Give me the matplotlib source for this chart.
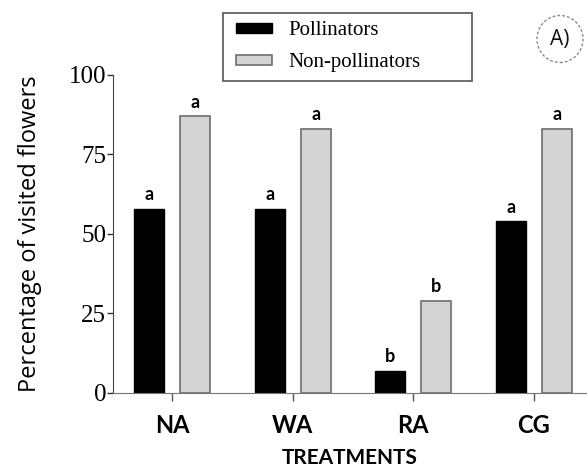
import numpy as np
import matplotlib.pyplot as plt
from matplotlib.patches import Ellipse, Rectangle

# dati
trattamenti = ['NA', 'WA', 'RA', 'CG']
impollinatori = [58, 58, 7, 54]
non_impollinatori = [87, 83, 29, 83]
lettere_imp = ['a', 'a', 'b', 'a']
lettere_non = ['a', 'a', 'b', 'a']

fig = plt.figure(figsize=(5.87, 4.68), dpi=100)
ax = fig.add_axes([0.1925, 0.1603, 0.8075, 0.6795])

x = np.arange(len(trattamenti))
w = 0.25
off = 0.19
b1 = ax.bar(x - off, impollinatori, w, color='black', edgecolor='black', linewidth=1,
            label='Pollinators')
b2 = ax.bar(x + off, non_impollinatori, w, color='#d4d4d4', edgecolor='#6e6e6e', linewidth=1.2,
            label='Non-pollinators')

# lettere sopra le barre
for i in range(len(trattamenti)):
    ax.annotate(lettere_imp[i], (x[i] - off, impollinatori[i]), xytext=(0, 4),
                textcoords='offset points', ha='center', va='bottom',
                fontsize=13, fontweight='bold', family='Lato')
    ax.annotate(lettere_non[i], (x[i] + off, non_impollinatori[i]), xytext=(0, 4),
                textcoords='offset points', ha='center', va='bottom',
                fontsize=13, fontweight='bold', family='Lato')

ax.set_ylim(0, 100)
ax.set_xlim(-0.49, 3.44)
ax.set_yticks([0, 25, 50, 75, 100])
ax.set_yticklabels(['0', '25', '50', '75', '100'], family='Liberation Serif', fontsize=18)
ax.set_xticks(x)
ax.set_xticklabels(trattamenti, family='Lato', fontweight='bold', fontsize=17)
ax.tick_params(axis='y', length=4, width=1, pad=1, color='#333333')
ax.tick_params(axis='x', length=6, width=1, pad=9, color='#555555')

ax.spines['top'].set_visible(False)
ax.spines['right'].set_visible(False)
ax.spines['left'].set_color('#444444')
ax.spines['bottom'].set_color('#777777')

ax.set_ylabel('Percentage of visited flowers', family='Open Sans', fontsize=17, labelpad=19)
ax.set_xlabel('TREATMENTS', family='Lato', fontweight='bold', fontsize=15, labelpad=8)

# legenda senza cornice + rettangolo disegnato a mano
leg = fig.legend(handles=[b1, b2], loc='upper left', bbox_to_anchor=(0.3745, 0.99),
                 prop={'family': 'Liberation Serif', 'size': 15}, frameon=False,
                 handlelength=1.7, handleheight=0.35, borderpad=0.3,
                 labelspacing=0.62, handletextpad=0.8)
fig.patches.append(Rectangle((223 / 587, 1 - 81 / 468), 249 / 587, 68 / 468,
                             transform=fig.transFigure, fill=False,
                             edgecolor='#555555', linewidth=1.2))

# etichetta "A)" nel cerchio tratteggiato
fig.patches.append(Ellipse((560 / 587, 1 - 39 / 468), 46 / 587, 47 / 468,
                           transform=fig.transFigure, fill=False, edgecolor='#888888',
                           linestyle=(0, (2, 1.5)), linewidth=1.0))
fig.text(560 / 587, 1 - 39 / 468, 'A)', ha='center', va='center', family='Open Sans',
         fontsize=15, color='#111111')

plt.savefig('out.png', dpi=100)
